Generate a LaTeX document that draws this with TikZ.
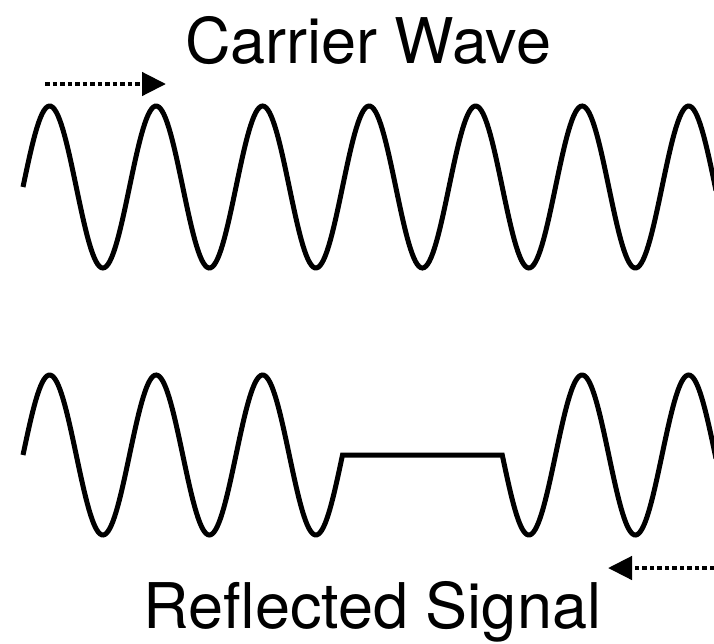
\documentclass[tikz,border=0pt]{standalone}
\usepackage{fontspec}
\setmainfont{TeX Gyre Heros}
\usetikzlibrary{arrows.meta}
\tikzset{
  wave/.style={line width=5pt, line join=miter},
  dotarrow/.style={line width=4.5pt, dash pattern=on 4.5pt off 3pt, -{Triangle[length=24pt,width=23pt]}},
  title/.style={font=\fontsize{63}{70}\selectfont, anchor=base, inner sep=0pt}
}
\begin{document}
\begin{tikzpicture}[x=1pt,y=-1pt]
\useasboundingbox (0,0) rectangle (714,643);
\begin{scope}
\clip (0,0) rectangle (714,643);
% carrier wave
\draw[wave] plot[domain=23:716, samples=400] (\x, {187 - 81*sin(3.380282*(\x-23))});
% reflected signal
\draw[wave] plot[domain=23:342.5, samples=200] (\x, {455 - 80*sin(3.380282*(\x-23))})
  -- plot[domain=502.25:716, samples=150] (\x, {455 - 80*sin(3.380282*(\x-23))});
\end{scope}
% arrows
\coordinate (a1s) at (45,84);
\coordinate (a1e) at (166,84);
\coordinate (a2s) at (714,568);
\coordinate (a2e) at (608,568);
\draw[dotarrow] (a1s) -- (a1e);
\draw[dotarrow] (a2s) -- (a2e);
% labels
\node[title] (carrier) at (368,63) {Carrier Wave};
\node[title] (reflected) at (372.5,628) {Reflected Signal};
\end{tikzpicture}
\end{document}
